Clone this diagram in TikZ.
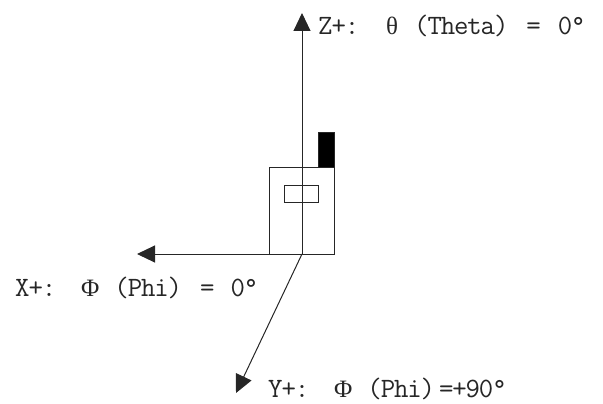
\documentclass[tikz,border=0pt]{standalone}
\usepackage{fontspec}
\newfontfamily\greekfont{Liberation Serif}
\newfontfamily\labelfont[LetterSpace=-4]{Latin Modern Mono}
\usetikzlibrary{arrows.meta,positioning}
\newcommand{\greek}[1]{{\greekfont\fontsize{25}{28}\selectfont #1}}
\begin{document}
\begin{tikzpicture}[
    x=1pt, y=-1pt,
    every node/.style={font=\labelfont\fontsize{28}{32}\selectfont, inner sep=0pt, anchor=base west, text=black!85},
    part/.style={rectangle, draw=black!85, line width=1pt, anchor=north west},
    axis/.style={draw=black!85, line width=1pt, -{Triangle[length=18pt, width=17pt]}}
]
\useasboundingbox (0,0) rectangle (603,404);

% Phone
\node[part, minimum width=65pt, minimum height=87pt] (body) at (269,167) {};
\node[part, minimum width=34pt, minimum height=17pt] (screen) at (284,185) {};
\node[part, fill=black, minimum width=16pt, minimum height=35pt] (antenna) at (318,132) {};

% Axes
\coordinate (origin) at (302,254);
\coordinate (ztip) at (302,13);
\coordinate (xtip) at (137,254);
\coordinate (ytip) at (236,393);
\draw[axis] (origin) -- (ztip);
\draw[axis] (origin) -- (xtip);
\draw[axis] (origin) -- (ytip);

% Labels
\node (zlabel) at (318,35) {Z+:\hspace{27pt}\greek{θ}\hspace{16pt}(Theta)\hspace{18pt}=\hspace{17pt}0°};
\node (xlabel) at (15,296) {X+:\hspace{25pt}\greek{Φ}\hspace{15pt}(Phi)\hspace{18pt}=\hspace{16pt}0°};
\node (ylabel) at (268,397) {Y+:\hspace{25pt}\greek{Φ}\hspace{15pt}(Phi)\hspace{4pt}=+90°};
\end{tikzpicture}
\end{document}
